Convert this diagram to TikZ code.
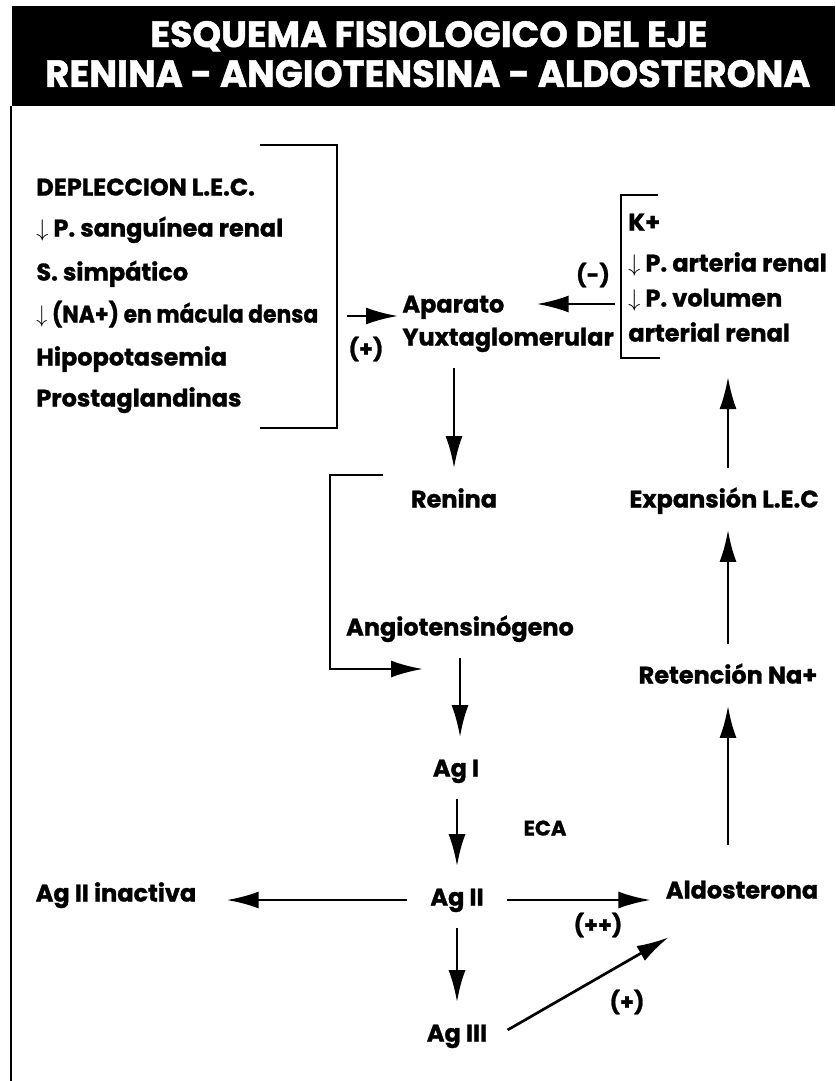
\documentclass[tikz,border=0pt]{standalone}
\usepackage{fontspec}
\setmainfont{Poppins}[BoldFeatures={FakeBold=1.2}]
\usepackage{amssymb}
\usepackage{amsmath}
\usetikzlibrary{arrows.meta}

\begin{document}
\begin{tikzpicture}[x=0.5pt,y=-0.5pt,
    txt/.style={inner sep=0pt,font=\fontsize{12}{14}\selectfont\bfseries,text height=8.5pt,text depth=0pt},
    signo/.style={inner sep=0pt,font=\fontsize{11}{14}\selectfont\bfseries},
    flecha/.style={line width=1.35pt,-{Latex[length=16pt,width=8.5pt]},shorten <=11pt,shorten >=11pt},
    corchete/.style={line width=0.6pt}]
    \useasboundingbox (0,0) rectangle (835,1081);
    \fill[black] (12,6) rectangle (835,106);
    \node[white,inner sep=0pt,anchor=base west] (tit1) at (150,47) {\resizebox{278.5pt}{13pt}{\bfseries ESQUEMA FISIOLOGICO DEL EJE}};
    \node[white,inner sep=0pt,anchor=base west] (tit2) at (45,87) {\resizebox{382.5pt}{13.5pt}{\bfseries RENINA - ANGIOTENSINA - ALDOSTERONA}};
    \draw[line width=1.2pt] (11,106) -- (11,1081);

    \node[txt,anchor=west] (deplec) at (36,187) {DEPLECCION L.E.C.};
    \node[txt,anchor=west] (psang) at (36,228) {$\downarrow$ P. sanguínea renal};
    \node[txt,anchor=west] (simp) at (36,272) {S. simpático};
    \node[txt,anchor=west] (macula) at (36,314) {\scalebox{0.91}[1]{$\downarrow$ (NA+) en mácula densa}};
    \node[txt,anchor=west] (hipok) at (36,357) {Hipopotasemia};
    \node[txt,anchor=west] (prosta) at (36,398) {Prostaglandinas};
    \coordinate (estim) at (337,316);
    \draw[corchete] (260,145) -- (337,145) -- (337,428) -- (260,428);

    \node[txt,anchor=west] (aparato) at (402,304) {Aparato};
    \node[txt,anchor=west] (yuxta) at (402,337) {Yuxtaglomerular};
    \node[signo] (mas1) at (366,349) {(+)};
    \draw[flecha,shorten <=5pt,shorten >=2pt] (estim) -- (estim -| yuxta.west);

    \node[txt,anchor=west] (kmas) at (628,222) {K+};
    \node[txt,anchor=west] (parteria) at (628,263) {$\downarrow$ P. arteria renal};
    \node[txt,anchor=west] (pvol) at (628,298) {$\downarrow$ P. volumen};
    \node[txt,anchor=west] (arterial) at (628,333) {arterial renal};
    \coordinate (inhib) at (621,304);
    \coordinate (cortop) at (621,195);
    \coordinate (corbot) at (621,358);
    \draw[corchete] (658,195) -- (cortop) -- (corbot) -- (660,358);
    \node[signo] (menos) at (593,275) {(-)};
    \draw[flecha,shorten <=3pt,shorten >=16pt] (inhib) -- (inhib -| aparato.east);

    \node[txt] (renina) at (454,499) {Renina};
    \node[txt] (angiot) at (460,627) {Angiotensinógeno};
    \node[txt] (agi) at (456,768) {Ag I};
    \node[txt] (agii) at (457,897) {Ag II};
    \node[txt] (agiii) at (457,1033) {Ag III};
    \node[txt] (inactiva) at (116,893) {Ag II inactiva};
    \node[txt,font=\fontsize{10.5}{12}\selectfont\bfseries,text height=7.5pt] (eca) at (545,828) {ECA};
    \node[txt] (aldo) at (742,890) {Aldosterona};
    \node[txt] (reten) at (728,675) {Retención Na+};
    \node[txt] (expan) at (724,499) {Expansión L.E.C};
    \node[signo] (masmas) at (598,925) {(++)};
    \node[signo] (mas2) at (627,1002) {(+)};

    \coordinate (brtop) at (383,475);
    \coordinate (brbot) at (330,669);
    \draw[flecha] (yuxta.south -| renina.north) -- (renina.north);
    \draw[flecha,shorten <=0pt,shorten >=0pt] (brtop) -| (brbot) -- ([xshift=-18.5pt]angiot.south |- brbot);
    \draw[flecha] (angiot.south) -- (agi.north -| angiot.south);
    \draw[flecha] (agi.south -| agii.north) -- (agii.north);
    \draw[flecha] (agii.south) -- (agiii.north);
    \draw[flecha,shorten <=11.5pt,shorten >=15pt] ([yshift=-1.5pt]agii.west) -- ([yshift=-1.5pt]agii.west -| inactiva.east);
    \draw[flecha,shorten <=11.5pt,shorten >=7.5pt] ([yshift=-1.5pt]agii.east) -- ([yshift=-1.5pt]agii.east -| aldo.west);
    \draw[flecha,shorten <=0pt,shorten >=0pt] ([xshift=10pt,yshift=1.5pt]agiii.east) -- ([xshift=1.5pt,yshift=-19.25pt]aldo.south west);
    \draw[flecha,shorten <=18pt] (aldo.north -| reten.south) -- (reten.south);
    \draw[flecha] (reten.north) -- (expan.south -| reten.north);
    \draw[flecha,shorten >=9.5pt] (expan.north -| reten.north) -- (corbot -| reten.north);
\end{tikzpicture}
\end{document}
